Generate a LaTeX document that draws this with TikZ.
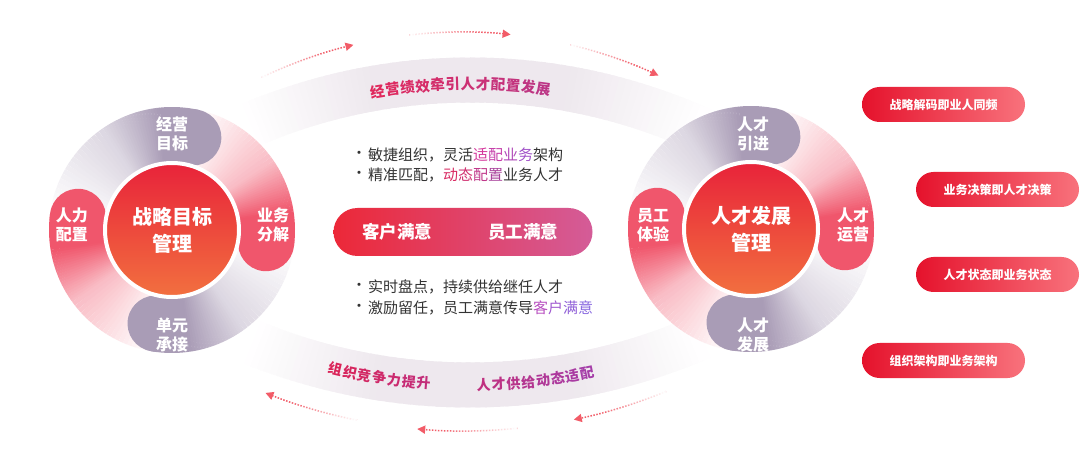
\documentclass[tikz,border=0pt]{standalone}
\usepackage{fontspec}
\setmainfont{Noto Sans CJK SC}
\usetikzlibrary{arrows.meta,calc}
\definecolor{pgrey}{HTML}{A99CB6}
\definecolor{ppink}{HTML}{F0566C}
\definecolor{bandc}{HTML}{EEE8EE}
\definecolor{arrc}{HTML}{F25C68}
\definecolor{tdark}{HTML}{333333}
\definecolor{tbA}{HTML}{E0285C}
\definecolor{tbB}{HTML}{BC3686}
\definecolor{bbA}{HTML}{DA2358}
\definecolor{bbB}{HTML}{A53DA8}
\definecolor{cred}{HTML}{E8233A}
\definecolor{cmid}{HTML}{EE3C38}
\definecolor{corange}{HTML}{F2703F}
\definecolor{pillL}{HTML}{EC2838}
\definecolor{pillM}{HTML}{F15F33}
\definecolor{pillR}{HTML}{D45C98}
\definecolor{rpL}{HTML}{E5122C}
\definecolor{rpR}{HTML}{F8727C}
\definecolor{hlA}{HTML}{D4389C}
\definecolor{hlB}{HTML}{C63FAA}
\definecolor{hlC}{HTML}{B048B8}
\definecolor{hlD}{HTML}{A050C8}
\definecolor{hrA}{HTML}{D92A62}
\definecolor{hrB}{HTML}{D03070}
\definecolor{hrC}{HTML}{C0388A}
\definecolor{hrD}{HTML}{A8409A}
\definecolor{hpA}{HTML}{B84FC0}
\definecolor{hpB}{HTML}{A058D0}
\definecolor{hpC}{HTML}{9060D8}
\definecolor{hpD}{HTML}{8868E0}

\def\garcw{56pt}
% cx cy R a0 a1 color p0 p1
\newcommand\garc[8]{%
 \foreach \k in {1,...,20}{%
  \pgfmathsetmacro\gsa{#4+(#5-#4)*(\k-1)/20}%
  \pgfmathsetmacro\gsb{#4+(#5-#4)*\k/20+0.5*sign(#5-#4)}%
  \pgfmathsetmacro\gsp{#7+(#8-#7)*(\k-0.5)/20}%
  \draw[line width=\garcw, draw=#6!\gsp!white] (#1,#2) ++(\gsa:#3) arc[start angle=\gsa, end angle=\gsb, radius=#3];
 }}
\newcommand\petalA[5]{%
 \pgfmathsetmacro\pmA{#3+0.5*(#4-#3)}%
 \garc{#1}{#2}{95}{#3}{\pmA}{#5}{0}{40}}
\newcommand\petalB[5]{%
 \pgfmathsetmacro\pmA{#3+0.5*(#4-#3)}%
 \pgfmathsetmacro\pmB{#3+0.8*(#4-#3)}%
 \garc{#1}{#2}{95}{\pmA}{\pmB}{#5}{40}{100}%
 \draw[line width=\garcw, draw=#5] (#1,#2) ++(\pmB:95) arc[start angle=\pmB, end angle=#4, radius=95];%
 \pgfmathsetmacro\pmC{#4-1}%
 \draw[line width=\garcw, draw=#5, line cap=round] (#1,#2) ++(\pmC:95) arc[start angle=\pmC, end angle=#4, radius=95];}
\newcommand\petals[2]{%
 \petalA{#1}{#2}{188}{283}{pgrey}%
 \petalA{#1}{#2}{283}{368}{ppink}%
 \petalA{#1}{#2}{368}{460}{pgrey}%
 \petalA{#1}{#2}{460}{548}{ppink}%
 \petalB{#1}{#2}{188}{283}{pgrey}%
 \petalB{#1}{#2}{283}{368}{ppink}%
 \petalB{#1}{#2}{368}{460}{pgrey}%
 \petalB{#1}{#2}{460}{548}{ppink}}
% dotted arrow: cx cy R a0 a1
\newcommand\darrow[5]{%
 \draw[arrc, line width=1.5pt, dash pattern=on 1.5pt off 1.5pt, -{Triangle[length=8pt,width=8pt]}] (#1,#2) ++(#4:#3) arc[start angle=#4, end angle=#5, radius=#3];
 \foreach \k in {1,...,12}{%
  \pgfmathsetmacro\gsa{#4+(#5-#4)*0.7*(\k-1)/12}%
  \pgfmathsetmacro\gsb{#4+(#5-#4)*0.7*\k/12}%
  \pgfmathsetmacro\gso{0.95*(1-(\k-1)/12)}%
  \draw[white, line width=4pt, draw opacity=\gso] (#1,#2) ++(\gsa:#3) arc[start angle=\gsa, end angle=\gsb, radius=#3];
 }}

\tikzset{
 petaltxt/.style={text=white, font=\fontsize{16}{19}\selectfont\bfseries, align=center, inner sep=0},
 centertxt/.style={text=white, font=\fontsize{20}{27}\selectfont\bfseries, align=center},
 core/.style={circle, minimum size=134pt, inner sep=0, draw=white, line width=4pt, top color=cred, middle color=cmid, bottom color=corange},
 bandtxt/.style={font=\fontsize{14.5}{14.5}\selectfont\bfseries, inner sep=0},
 bandtxtb/.style={font=\fontsize{14}{14}\selectfont\bfseries, inner sep=0},
 bullettxt/.style={text=tdark, font=\fontsize{15}{15}\selectfont, anchor=west, inner sep=0},
 dottxt/.style={text=tdark, font=\fontsize{15}{15}\selectfont, inner sep=0},
 pilltxt/.style={text=white, font=\fontsize{17.5}{17.5}\selectfont\bfseries, inner sep=0},
 rpill/.style={rectangle, rounded corners=17.5pt, minimum width=163pt, minimum height=35pt, inner sep=0, left color=rpL, right color=rpR, text=white, font=\fontsize{12}{12}\selectfont\bfseries},
}

\begin{document}
\begin{tikzpicture}[x=1pt,y=-1pt]
\fill[white] (0,0) rectangle (1080,465);
\useasboundingbox (0,0) rectangle (1080,465);

% big bands
\def\garcw{45pt}
\garc{470}{640}{560}{-113}{-100}{bandc}{0}{100}
\garc{470}{640}{560}{-100}{-80}{bandc}{100}{100}
\garc{470}{640}{560}{-80}{-66}{bandc}{100}{0}
\garc{470}{-195}{580}{112}{99}{bandc}{0}{100}
\garc{470}{-195}{580}{99}{80}{bandc}{100}{100}
\garc{470}{-195}{580}{80}{67}{bandc}{100}{0}

% band texts
\foreach \ch [count=\i from 0] in {经,营,绩,效,牵,引,人,才,配,置,发,展}{
 \pgfmathsetmacro\ang{-91+(\i-5.5)*1.56}
 \pgfmathsetmacro\rot{-90-\ang}
 \pgfmathsetmacro\pc{\i/11*100}
 \node[bandtxt, text=tbB!\pc!tbA, rotate=\rot] (tt\i) at ($(470,640)+(\ang:556)$) {\ch};
}
\foreach \ch [count=\i from 0] in {组,织,竞,争,力,提,升}{
 \pgfmathsetmacro\ang{99.0+(3-\i)*1.47}
 \pgfmathsetmacro\rot{90-\ang}
 \pgfmathsetmacro\pc{\i/14*100}
 \node[bandtxtb, text=bbB!\pc!bbA, rotate=\rot] (ba\i) at ($(470,-195)+(\ang:580)$) {\ch};
}
\foreach \ch [count=\i from 0] in {人,才,供,给,动,态,适,配}{
 \pgfmathsetmacro\ang{83.5+(3.5-\i)*1.47}
 \pgfmathsetmacro\rot{90-\ang}
 \pgfmathsetmacro\pc{(\i+7)/14*100}
 \node[bandtxtb, text=bbB!\pc!bbA, rotate=\rot] (bb\i) at ($(470,-195)+(\ang:580)$) {\ch};
}

% dotted arrows
\darrow{462}{497}{465}{-115.5}{-103.5}
\darrow{462}{497}{465}{-96.5}{-84}
\darrow{462}{497}{465}{-76.5}{-65}
\darrow{464}{-106}{537}{101.5}{111.7}
\darrow{464}{-106}{537}{84.3}{95}
\darrow{464}{-106}{537}{67.9}{78.2}

% clusters
\def\garcw{56pt}
\petals{172}{230}
\petals{751}{229}

\node[core, centertxt] (lc) at (172,230) {战略目标\\管理};
\node[petaltxt] (l1) at (172,134) {经营\\目标};
\node[petaltxt] (l2) at (273,225) {业务\\分解};
\node[petaltxt] (l3) at (172,335) {单元\\承接};
\node[petaltxt] (l4) at (72,225) {人力\\配置};

\node[core, centertxt] (rc) at (751,229) {人才发展\\管理};
\node[petaltxt] (r1) at (753,134) {人才\\引进};
\node[petaltxt] (r2) at (853,225) {人才\\运营};
\node[petaltxt] (r3) at (753,335) {人才\\发展};
\node[petaltxt] (r4) at (653,225) {员工\\体验};

% middle
\node[dottxt] (d1) at (359,155) {·};
\node[bullettxt] (m1) at (368,155) {敏捷组织，灵活\textcolor{hlA}{适}\textcolor{hlB}{配}\textcolor{hlC}{业}\textcolor{hlD}{务}架构};
\node[dottxt] (d2) at (359,175) {·};
\node[bullettxt] (m2) at (368,175) {精准匹配，\textcolor{hrA}{动}\textcolor{hrB}{态}\textcolor{hrC}{配}\textcolor{hrD}{置}业务人才};
\node[rectangle, rounded corners=24pt, minimum width=259pt, minimum height=48pt, inner sep=0, left color=pillL, middle color=pillM, right color=pillR] (pill) at (463,232) {};
\node[pilltxt] (k1) at (397,232) {客户满意};
\node[pilltxt] (k2) at (523,232) {员工满意};
\node[dottxt] (d3) at (359,287) {·};
\node[bullettxt] (m3) at (368,287) {实时盘点，持续供给继任人才};
\node[dottxt] (d4) at (359,308) {·};
\node[bullettxt] (m4) at (368,308) {激励留任，员工满意传导\textcolor{hpA}{客}\textcolor{hpB}{户}\textcolor{hpC}{满}\textcolor{hpD}{意}};

% right pills
\node[rpill] (p1) at (943.5,104.5) {战略解码即业人同频};
\node[rpill] (p2) at (997.5,189.5) {业务决策即人才决策};
\node[rpill] (p3) at (997.5,274.5) {人才状态即业务状态};
\node[rpill] (p4) at (943.5,360.5) {组织架构即业务架构};
\end{tikzpicture}
\end{document}
